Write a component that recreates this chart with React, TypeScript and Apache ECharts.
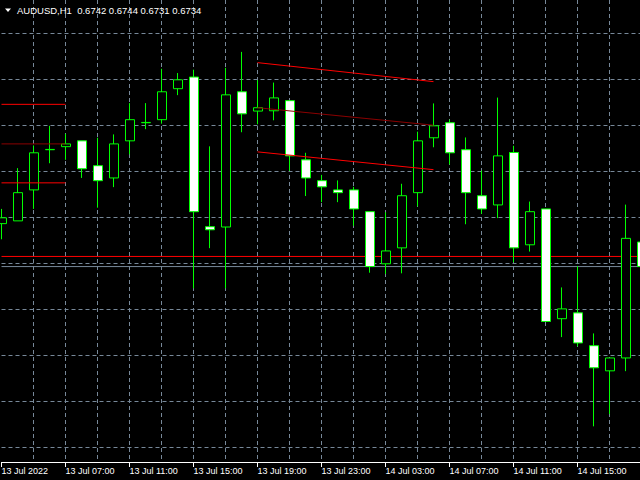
import { useEffect, useRef } from "react";
import * as echarts from "echarts";

const symbol = "AUDUSD";
const timeframe = "H1";

const times = [
  "13 Jul 03:00", "13 Jul 04:00", "13 Jul 05:00", "13 Jul 06:00", "13 Jul 07:00",
  "13 Jul 08:00", "13 Jul 09:00", "13 Jul 10:00", "13 Jul 11:00", "13 Jul 12:00",
  "13 Jul 13:00", "13 Jul 14:00", "13 Jul 15:00", "13 Jul 16:00", "13 Jul 17:00",
  "13 Jul 18:00", "13 Jul 19:00", "13 Jul 20:00", "13 Jul 21:00", "13 Jul 22:00",
  "13 Jul 23:00", "14 Jul 00:00", "14 Jul 01:00", "14 Jul 02:00", "14 Jul 03:00",
  "14 Jul 04:00", "14 Jul 05:00", "14 Jul 06:00", "14 Jul 07:00", "14 Jul 08:00",
  "14 Jul 09:00", "14 Jul 10:00", "14 Jul 11:00", "14 Jul 12:00", "14 Jul 13:00",
  "14 Jul 14:00", "14 Jul 15:00", "14 Jul 16:00", "14 Jul 17:00", "14 Jul 18:00",
  "14 Jul 19:00",
];

const tickLabels = [
  "13 Jul 2022", "13 Jul 07:00", "13 Jul 11:00", "13 Jul 15:00", "13 Jul 19:00",
  "13 Jul 23:00", "14 Jul 03:00", "14 Jul 07:00", "14 Jul 11:00", "14 Jul 15:00",
];

const opens = [
  0.6748, 0.67489, 0.6759, 0.67721, 0.67731, 0.6775, 0.67669, 0.67629, 0.6775, 0.67809,
  0.67819, 0.6792, 0.67958, 0.6747, 0.67469, 0.6791, 0.67847, 0.67848, 0.67881, 0.67688,
  0.6762, 0.6759, 0.6759, 0.67519, 0.67349, 0.67401, 0.67581, 0.6776, 0.67809, 0.67721,
  0.67571, 0.67541, 0.67712, 0.67411, 0.67528, 0.6717, 0.67189, 0.67082, 0.67, 0.67042,
  0.6742,
];
const closes = [
  0.67499, 0.67581, 0.67711, 0.67722, 0.6774, 0.67659, 0.6762, 0.6774, 0.67819, 0.6781,
  0.6791, 0.67949, 0.67519, 0.6746, 0.679, 0.67838, 0.67858, 0.6789, 0.67701, 0.67629,
  0.676, 0.67581, 0.67528, 0.6734, 0.67391, 0.67571, 0.6775, 0.67799, 0.67711, 0.67581,
  0.67528, 0.67701, 0.67401, 0.67519, 0.67161, 0.67202, 0.67091, 0.6701, 0.67042, 0.67432,
  0.6734,
];
const lows = [
  0.67429, 0.67489, 0.67528, 0.67677, 0.67688, 0.67629, 0.67532, 0.67599, 0.67706, 0.67788,
  0.67806, 0.67899, 0.67269, 0.674, 0.67269, 0.67778, 0.67804, 0.67817, 0.67652, 0.6757,
  0.6755, 0.6755, 0.67473, 0.6732, 0.67316, 0.67318, 0.67536, 0.67729, 0.67673, 0.67478,
  0.67512, 0.67498, 0.67354, 0.67389, 0.67161, 0.6711, 0.6708, 0.66819, 0.66859, 0.66999,
  0.6731,
];
const highs = [
  0.67528, 0.67661, 0.67735, 0.67799, 0.67773, 0.6775, 0.6776, 0.67771, 0.67873, 0.67873,
  0.67985, 0.67971, 0.67982, 0.67732, 0.67988, 0.6804, 0.67948, 0.6794, 0.67881, 0.67711,
  0.67639, 0.67621, 0.676, 0.67519, 0.67517, 0.6761, 0.6778, 0.67872, 0.67819, 0.67761,
  0.67653, 0.67891, 0.67734, 0.67552, 0.67528, 0.67272, 0.67341, 0.67122, 0.67042, 0.67542,
  0.6744,
];

// horizontal grid prices (0.0015 step)
const gridPrices = [0.6675, 0.669, 0.6705, 0.672, 0.6735, 0.675, 0.6765, 0.678, 0.6795, 0.681];

// indicator levels
const prevFrom = 0;
const prevTo = 4;
const prevUpper = 0.67869;
const prevMid = 0.6774;
const prevLower = 0.67613;

const chanFrom = 16;
const chanTo = 27;
const chanUpper = [0.68005, 0.67943];
const chanMid = [0.67858, 0.67801];
const chanLower = [0.67714, 0.67656];

const levelLine = 0.67373;

const priceMin = 0.6670272;
const priceMax = 0.6820924;

function segment(from: number, to: number, a: number, b: number) {
  const arr: (number | null)[] = times.map(() => null);
  arr[from] = a;
  arr[to] = b;
  return arr;
}

export default function App() {
  const ref = useRef<HTMLDivElement>(null);

  useEffect(() => {
    if (!ref.current) return;
    const chart = echarts.init(ref.current, null, { renderer: "svg" });
    const last = times.length - 1;
    const bid = closes[last];
    const fmt = (v: number) => v.toFixed(4);
    const title = `${symbol},${timeframe}  ${fmt(opens[last])} ${fmt(highs[last])} ${fmt(lows[last])} ${fmt(closes[last])}`;

    const candleData = times.map((_, i) => [opens[i], closes[i], lows[i], highs[i]]);

    const red = "#ff0000";
    const darkRed = "#8b0000";
    const grey = "#778899";

    const lineSeries = (data: (number | null)[], color: string, z: number, type: any = "solid") => ({
      type: "line",
      data,
      connectNulls: true,
      symbol: "none",
      silent: true,
      z,
      lineStyle: { color, width: 1, type },
      itemStyle: { color },
    });

    const fullWidth = (p: number) => segment(0, last, p, p);

    const option: any = {
      animation: false,
      backgroundColor: "#000000",
      grid: { left: 1.5, right: -1.5, top: 0, bottom: 18, outerBoundsMode: "none", containLabel: false },
      xAxis: {
        type: "category",
        data: times,
        boundaryGap: false,
        z: 0,
        axisLine: { show: true, lineStyle: { color: "#ffffff", width: 1 } },
        axisTick: {
          show: true,
          length: 5,
          interval: (i: number) => i % 4 === 0,
          lineStyle: { color: "#ffffff" },
        },
        axisLabel: {
          show: true,
          interval: (i: number) => i % 4 === 0,
          formatter: (_v: string, i: number) => (i % 4 === 0 ? tickLabels[i / 4] ?? "" : ""),
          align: "left",
          color: "#ffffff",
          fontFamily: "Liberation Sans",
          fontSize: 9,
          margin: 4,
        },
        splitLine: {
          show: true,
          interval: (i: number) => i % 2 === 0 && i > 0,
          lineStyle: { color: grey, type: [4, 3], width: 1 },
        },
      },
      yAxis: {
        type: "value",
        min: priceMin,
        max: priceMax,
        show: false,
        splitLine: { show: false },
      },
      series: [
        ...gridPrices.map((p) => lineSeries(fullWidth(p), grey, 1, [4, 3])),
        lineSeries(fullWidth(levelLine), red, 2),
        lineSeries(fullWidth(bid), grey, 2),
        {
          type: "candlestick",
          data: candleData,
          barWidth: 9.5,
          clip: false,
          z: 10,
          itemStyle: {
            color: "#000000",
            color0: "#ffffff",
            borderColor: "#00ff00",
            borderColor0: "#00ff00",
            borderWidth: 1,
          },
        },
        lineSeries(segment(prevFrom, prevTo, prevUpper, prevUpper), red, 12),
        lineSeries(segment(prevFrom, prevTo, prevMid, prevMid), darkRed, 12),
        lineSeries(segment(prevFrom, prevTo, prevLower, prevLower), red, 12),
        lineSeries(segment(chanFrom, chanTo, chanUpper[0], chanUpper[1]), red, 12),
        lineSeries(segment(chanFrom, chanTo, chanMid[0], chanMid[1]), darkRed, 12),
        lineSeries(segment(chanFrom, chanTo, chanLower[0], chanLower[1]), red, 12),
      ],
      graphic: [
        {
          type: "polygon",
          shape: { points: [[5, 8.5], [11, 8.5], [8, 12]] },
          style: { fill: "#ffffff" },
          z: 100,
        },
        {
          type: "text",
          x: 17,
          y: 10,
          z: 100,
          style: {
            text: title,
            fill: "#ffffff",
            font: '9.5px "Liberation Sans"',
            verticalAlign: "middle",
            align: "left",
          },
        },
      ],
    };

    chart.setOption(option);
    return () => chart.dispose();
  }, []);

  return (
    <div
      ref={ref}
      style={{ position: "fixed", left: 0, top: 0, width: 640, height: 480, background: "#000" }}
    />
  );
}
